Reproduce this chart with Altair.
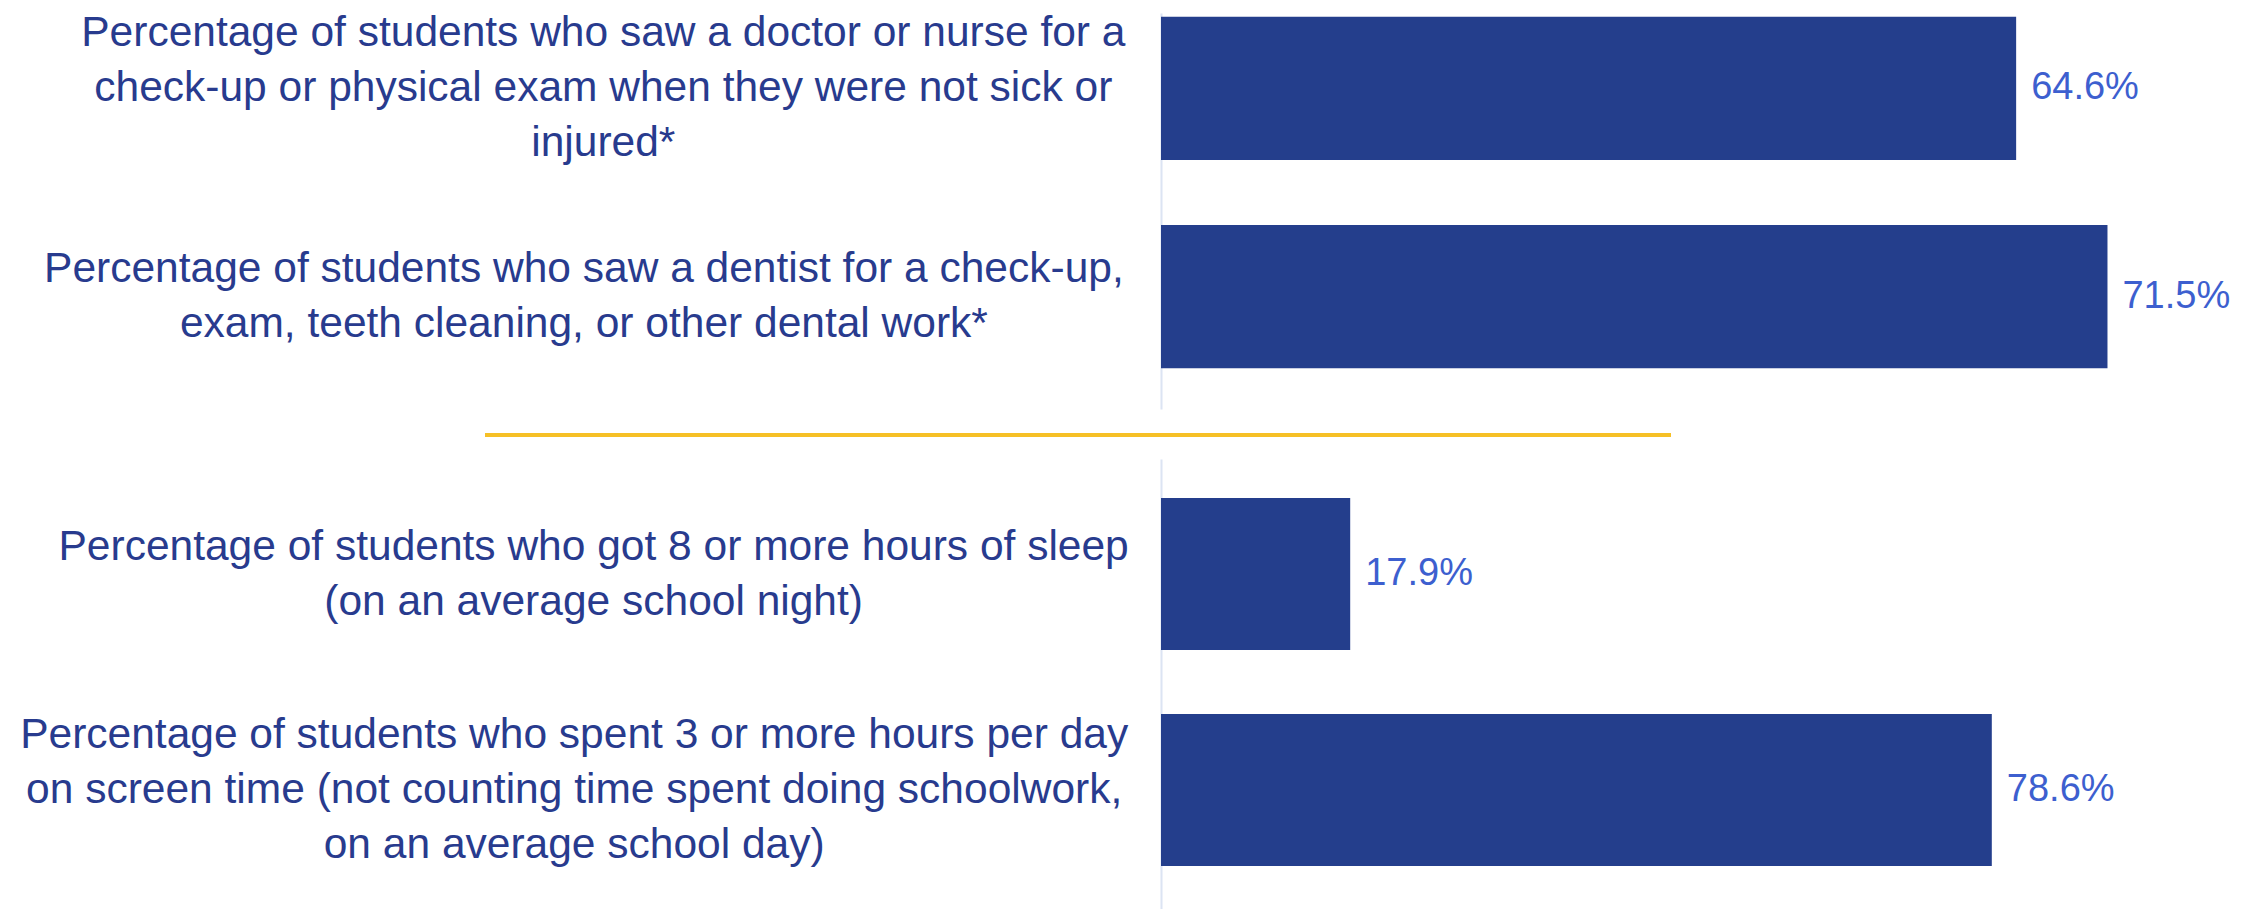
import altair as alt
import pandas as pd

# ---- data ----
TOP_CATEGORIES = [
    "Percentage of students who saw a doctor or nurse for a|check-up or physical exam when they were not sick or|injured*",
    "Percentage of students who saw a dentist for a check-up,|exam, teeth cleaning, or other dental work*",
]
TOP_VALUES = [64.6, 71.5]

BOTTOM_CATEGORIES = [
    "Percentage of students who got 8 or more hours of sleep|(on an average school night)",
    "Percentage of students who spent 3 or more hours per day|on screen time (not counting time spent doing schoolwork,|on an average school day)",
]
BOTTOM_VALUES = [17.9, 78.6]

BAR_COLOR = "#243E8C"
LABEL_COLOR = "#283B8E"
VALUE_COLOR = "#3D5FCF"
AXIS_COLOR = "#DCE4F3"
SEP_COLOR = "#F6C026"
FONT = "Liberation Sans"
LINE_H = 55
CHAR_W = 19.45   # approx. average glyph width of the label font (px)
LABEL_GAP = 33   # gap between the label block's right edge and the axis

# helper expressions: lines of a label, longest line length
_LINES = "split(datum.value, '|')"
_MAXLEN = (
    f"max(length({_LINES}[0]), length({_LINES}[1] || ''), length({_LINES}[2] || ''))"
)


def panel(cats, vals, xmax, width, height, pin, pout, align):
    df = pd.DataFrame({"measure": cats, "value": vals})
    base = alt.Chart(df).encode(
        y=alt.Y(
            "measure:N",
            sort=cats,
            title=None,
            scale=alt.Scale(paddingInner=pin, paddingOuter=pout, align=align),
            axis=alt.Axis(
                labelExpr="split(datum.label, '|')",
                labelAlign="center",
                labelBaseline="middle",
                # block right-aligned, lines centred within the block
                labelPadding=alt.ExprRef(f"{LABEL_GAP} + {CHAR_W} * {_MAXLEN} / 2"),
                labelOffset=alt.ExprRef(f"-(length({_LINES}) - 1) * {LINE_H / 2}"),
                labelFont=FONT,
                labelFontSize=42.5,
                labelLineHeight=LINE_H,
                labelColor=LABEL_COLOR,
                labelLimit=3000,
                ticks=False,
                tickSize=0,
                domainColor=AXIS_COLOR,
                domainWidth=2,
                grid=False,
            ),
        ),
        x=alt.X("value:Q", scale=alt.Scale(domain=[0, xmax]), axis=None),
    )
    bars = base.mark_bar(color=BAR_COLOR)
    text = (
        base.mark_text(
            align="left",
            baseline="middle",
            dx=15,
            font=FONT,
            fontSize=38,
            color=VALUE_COLOR,
        )
        .encode(text="label:N")
        .transform_calculate(label="format(datum.value, '.1f') + '%'")
    )
    return bars, text, width, height


tb, tt, tw, th = panel(TOP_CATEGORIES, TOP_VALUES, 80, 1059, 396, 0.312, 0.1066, 0.083)
sep = (
    alt.Chart(pd.DataFrame({"k": [0]}))
    .mark_rule(color=SEP_COLOR, strokeWidth=4)
    .encode(x=alt.value(-676), x2=alt.value(510), y=alt.value(422))
)
top = alt.layer(tb, tt, sep).properties(width=tw, height=th)

bb, bt, bw, bh = panel(BOTTOM_CATEGORIES, BOTTOM_VALUES, 100, 1057, 450, 0.296, 0.19, 0.476)
bottom = alt.layer(bb, bt).properties(width=bw, height=bh)

chart = (
    alt.vconcat(top, bottom, spacing=50, bounds="flush")
    .properties(
        padding={"left": 11, "top": 3, "right": 0, "bottom": 0},
        background="white",
    )
    .configure_view(strokeWidth=0, stroke="transparent")
)

chart.save("out.html", embed_options={"renderer": "svg", "actions": False})
